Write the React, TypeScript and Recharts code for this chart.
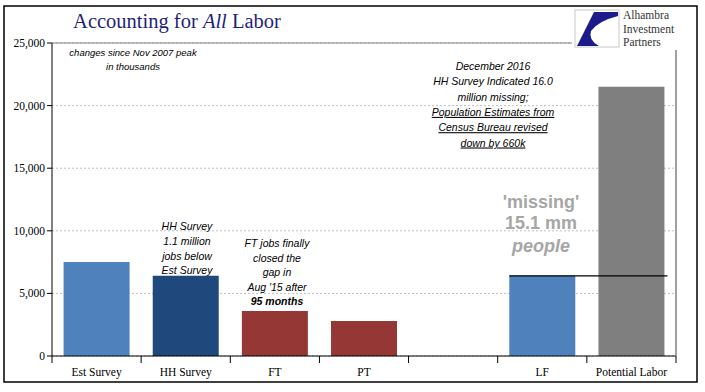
import { BarChart, Bar, XAxis, YAxis, CartesianGrid, Cell, ReferenceLine } from "recharts";

const categories = ["Est Survey", "HH Survey", "FT", "PT", "", "LF", "Potential Labor"];
const changes = [7500, 6400, 3600, 2800, null, 6400, 21500];
const yTicks = [0, 5000, 10000, 15000, 20000, 25000];
const laborForceLevel = 6400;

const BAR_COLORS = ["#4F81BD", "#1F497D", "#953735", "#953735", "#ffffff", "#4F81BD", "#7F7F7F"];

const data = categories.map((name, i) => ({ name, value: changes[i] }));

const W = 705;
const H = 392;
const M = { top: 43, right: 29, left: 0, bottom: 0 };
const Y_AXIS_W = 52;
const X_AXIS_H = 36;
const PLOT_L = M.left + Y_AXIS_W;
const PLOT_R = W - M.right;
const PLOT_T = M.top;
const PLOT_B = H - M.bottom - X_AXIS_H;
const BAND = (PLOT_R - PLOT_L) / categories.length;

const serif = "'Liberation Serif', 'Times New Roman', serif";
const sans = "'Liberation Sans', Arial, sans-serif";

const XTick = ({ x, y, payload, index }: any) => (
  <g>
    <line x1={x - BAND / 2} x2={x - BAND / 2} y1={y - 8} y2={y - 1} stroke="#000" />
    {index === categories.length - 1 && (
      <line x1={x + BAND / 2} x2={x + BAND / 2} y1={y - 8} y2={y - 1} stroke="#000" />
    )}
    <text x={x} y={y + 12} textAnchor="middle" fontFamily={serif} fontSize={11.5} fill="#000">
      {payload.value}
    </text>
  </g>
);

const fmt = (v: number) => v.toLocaleString("en-US");

const Notes = ({ x, lines, start, step, size = 10.5, color = "#000" }: any) => (
  <text fontFamily={sans} fontStyle="italic" fontSize={size} fill={color} textAnchor="middle">
    {lines.map((l: any, i: number) => (
      <tspan key={i} x={x} y={start + i * step} fontWeight={l.bold ? "bold" : "normal"} textDecoration={l.u ? "underline" : "none"}>
        {l.t}
      </tspan>
    ))}
  </text>
);

export default function App() {
  return (
    <div style={{ position: "absolute", left: 0, top: 0, width: W, height: H, background: "#fff" }}>
      <BarChart width={W} height={H} data={data} margin={M} barCategoryGap="13%">
        <CartesianGrid vertical={false} stroke="#BFBFBF" strokeDasharray="2 2" />
        <XAxis
          dataKey="name"
          height={X_AXIS_H}
          axisLine={{ stroke: "#000" }}
          tickLine={false}
          tick={<XTick />}
          interval={0}
        />
        <YAxis
          width={Y_AXIS_W}
          domain={[0, 25000]}
          ticks={yTicks}
          tickFormatter={fmt}
          axisLine={{ stroke: "#000" }}
          tickLine={{ stroke: "#000" }}
          tickSize={5}
          tick={{ fontFamily: serif, fontSize: 11.5, fill: "#000" }}
        />
        <Bar dataKey="value" isAnimationActive={false}>
          {data.map((_, i) => (
            <Cell key={i} fill={BAR_COLORS[i]} />
          ))}
        </Bar>
        <ReferenceLine
          segment={[
            { x: "LF", y: laborForceLevel },
            { x: "Potential Labor", y: laborForceLevel },
          ]}
          shape={(p: any) => (
            <line x1={p.x1 - 33} x2={p.x2 + 36} y1={p.y1} y2={p.y2} stroke="#000" strokeWidth={1.2} />
          )}
        />
      </BarChart>
      <svg width={W} height={H} style={{ position: "absolute", left: 0, top: 0, pointerEvents: "none" }}>
        <rect x={4} y={6} width={693} height={376} fill="none" stroke="#000" strokeWidth={1.5} />
        <line x1={PLOT_L} x2={PLOT_R} y1={PLOT_T} y2={PLOT_T} stroke="#808080" />
        <line x1={PLOT_R} x2={PLOT_R} y1={PLOT_T} y2={PLOT_B} stroke="#808080" />
        <text x={177} y={28} textAnchor="middle" fontFamily={serif} fontSize={20.5} fill="#1F1F7A">
          Accounting for <tspan fontStyle="italic">All</tspan> Labor
        </text>
        {/* logo */}
        <rect x={572} y={7} width={124} height={43} fill="#fff" />
        <rect x={575} y={10} width={44} height={37} fill="#fff" stroke="#C8C8C8" />
        <path d="M594 12 L618 12 L618 16 Q598 21 591 31 Q588 40 599 46 L577 46 Q586 28 594 12 Z" fill="#1B1B8C" />
        <text fontFamily={serif} fontSize={11.5} fill="#333">
          <tspan x={623} y={19}>Alhambra</tspan>
          <tspan x={623} y={32.5}>Investment</tspan>
          <tspan x={623} y={46}>Partners</tspan>
        </text>
        <line x1={PLOT_R} x2={PLOT_R} y1={50} y2={PLOT_B} stroke="#808080" />
        <Notes x={133} start={56} step={14} size={9.5} lines={[{ t: "changes since Nov 2007 peak" }, { t: "in thousands" }]} />
        <Notes
          x={493}
          start={70}
          step={15.3}
          lines={[
            { t: "December 2016" },
            { t: "HH Survey Indicated 16.0" },
            { t: "million missing;" },
            { t: "Population Estimates from", u: true },
            { t: "Census Bureau revised", u: true },
            { t: "down by 660k", u: true },
          ]}
        />
        <Notes
          x={187}
          start={230}
          step={14.8}
          lines={[{ t: "HH Survey" }, { t: "1.1 million" }, { t: "jobs below" }, { t: "Est Survey" }]}
        />
        <Notes
          x={277}
          start={247}
          step={14.5}
          lines={[{ t: "FT jobs finally" }, { t: "closed the" }, { t: "gap in" }, { t: "Aug '15 after" }, { t: "95 months", bold: true }]}
        />
        <text fontFamily={sans} fontWeight="bold" fontSize={18} fill="#A6A6A6" textAnchor="middle">
          <tspan x={541} y={208}>'missing'</tspan>
          <tspan x={541} y={229}>15.1 mm</tspan>
          <tspan x={541} y={252} fontStyle="italic">people</tspan>
        </text>
      </svg>
    </div>
  );
}
